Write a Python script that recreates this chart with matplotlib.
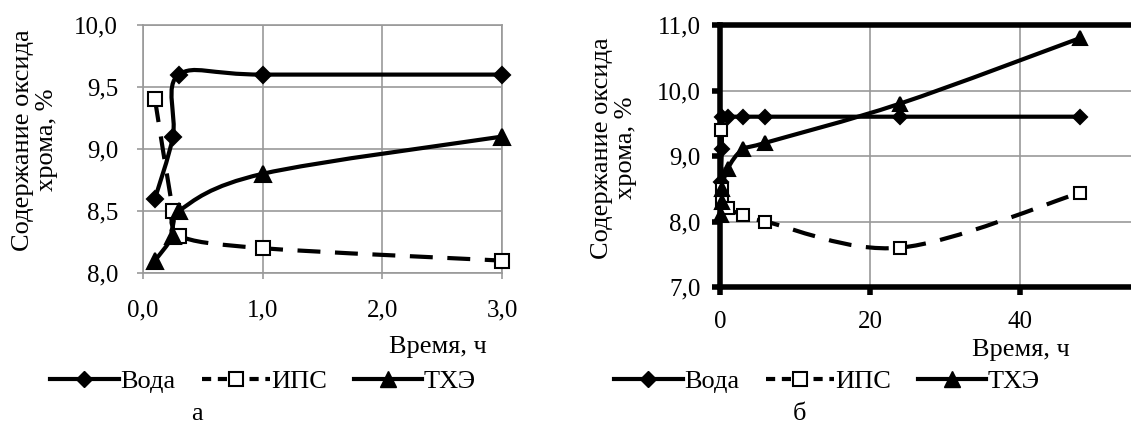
import numpy as np
import matplotlib
matplotlib.use("Agg")
import matplotlib.pyplot as plt
from matplotlib.path import Path
from matplotlib.patches import PathPatch
from matplotlib.lines import Line2D

# panel а
t_a = [0.1, 0.25, 0.3, 1.0, 3.0]
voda_a = [8.6, 9.1, 9.6, 9.6, 9.6]
ips_a = [9.4, 8.5, 8.3, 8.2, 8.1]
tce_a = [8.1, 8.3, 8.5, 8.8, 9.1]

# panel б
t_b = [0.1, 0.25, 0.3, 1, 3, 6, 24, 48]
voda_b = [8.6, 9.1, 9.6, 9.6, 9.6, 9.6, 9.6, 9.6]
ips_b = [9.4, 8.5, 8.3, 8.2, 8.1, 8.0, 7.6, 8.44]
tce_b = [8.1, 8.3, 8.5, 8.8, 9.1, 9.2, 9.8, 10.8]

names = ["Вода", "ИПС", "ТХЭ"]
yticks_a = [8.0, 8.5, 9.0, 9.5, 10.0]
xticks_a = [0.0, 1.0, 2.0, 3.0]
yticks_b = [7.0, 8.0, 9.0, 10.0, 11.0]
xticks_b = [0, 20, 40]

# one family for every text
plt.rcParams["font.family"] = ["Liberation Serif"]
W, H = 1131, 424


def smooth_path(x, y):
    # Excel-like smoothed line: Catmull-Rom as cubic Bezier segments
    p = np.column_stack([x, y]).astype(float)
    n = len(p)
    verts = [p[0]]
    codes = [Path.MOVETO]
    for i in range(n - 1):
        p0 = p[max(i - 1, 0)]
        p1 = p[i]
        p2 = p[i + 1]
        p3 = p[min(i + 2, n - 1)]
        verts += [p1 + (p2 - p0) / 6, p2 - (p3 - p1) / 6, p2]
        codes += [Path.CURVE4] * 3
    return Path(verts, codes)


def comma(v, nd=1):
    return f"{v:.{nd}f}".replace(".", ",")


def draw_series(ax, x, ys, ms):
    styles = [("D", "k", "-"), ("s", "white", (0, (5.5, 3.5))), ("^", "k", "-")]
    for y, (m, fc, ls), s in zip(ys, styles, ms):
        ax.add_patch(PathPatch(smooth_path(x, y), fill=False, lw=3, ec="k",
                               ls=ls, capstyle="butt", zorder=3))
        ax.plot(x, y, ls="none", marker=m, ms=s, mfc=fc, mec="k", mew=1.5,
                zorder=4, clip_on=False)


def legend(fig, cx, cy):
    h = [Line2D([], [], color="k", lw=3, marker="D", ms=8),
         Line2D([], [], color="k", lw=3, ls=(0, (2.2, 1.6)), marker="s", ms=10,
                mfc="white", mec="k", mew=1.5),
         Line2D([], [], color="k", lw=3, marker="^", ms=11)]
    fig.legend(h, names, loc="center", bbox_to_anchor=(cx / W, 1 - cy / H),
               ncol=3, frameon=False, handlelength=2.6, handletextpad=0.05,
               columnspacing=1.0, fontsize=19)


def label(x, y, s, **kw):
    fig.text(x / W, 1 - y / H, s, size=19, **kw)


fig = plt.figure(figsize=(W / 100, H / 100), dpi=100)

# ---- panel а
ax1 = fig.add_axes([143 / W, 1 - 273 / H, (502 - 143) / W, (273 - 25) / H])
draw_series(ax1, t_a, [voda_a, ips_a, tce_a], [8, 10, 11])
ax1.set_xlim(0, 3)
ax1.set_ylim(8, 10)
ax1.set_xticks(xticks_a, [comma(v) for v in xticks_a])
ax1.set_yticks(yticks_a, [comma(v) for v in yticks_a])
ax1.grid(True, color="#999999", lw=1.2)
ax1.set_axisbelow(True)
for s in ax1.spines.values():
    s.set_color("#999999")
    s.set_linewidth(1.2)
ax1.tick_params(axis="both", direction="out", length=4, width=1.2, color="#999999",
                labelsize=18)
ax1.tick_params(axis="y", pad=14)
ax1.tick_params(axis="x", pad=15)

label(35, 140, "Содержание оксида\nхрома, %", rotation=90, ha="center", va="center",
      multialignment="center", linespacing=1.15)
label(487, 347, "Время, ч", ha="right", va="center")
legend(fig, 263, 381)
label(197, 414, "а", ha="center", va="center")

# ---- panel б
ax2 = fig.add_axes([720 / W, 1 - 287 / H, 450 / W, (287 - 25) / H])
draw_series(ax2, t_b, [voda_b, ips_b, tce_b], [7, 9, 10])
ax2.set_xlim(0, 60)
ax2.set_ylim(7, 11)
ax2.set_xticks(xticks_b, [str(v) for v in xticks_b])
ax2.set_yticks(yticks_b, [comma(v) for v in yticks_b])
ax2.grid(True, color="#999999", lw=1.2)
ax2.set_axisbelow(True)
for s in ax2.spines.values():
    s.set_color("k")
    s.set_linewidth(4)
ax2.tick_params(axis="both", direction="out", length=6, width=4, color="k",
                labelsize=18)
ax2.tick_params(axis="y", pad=8)
ax2.tick_params(axis="x", pad=11)

label(614, 148, "Содержание оксида\nхрома, %", rotation=90, ha="center", va="center",
      multialignment="center", linespacing=1.15)
label(1070, 350, "Время, ч", ha="right", va="center")
legend(fig, 827, 381)
label(800, 414, "б", ha="center", va="center")

fig.savefig("out.png", dpi=100)
